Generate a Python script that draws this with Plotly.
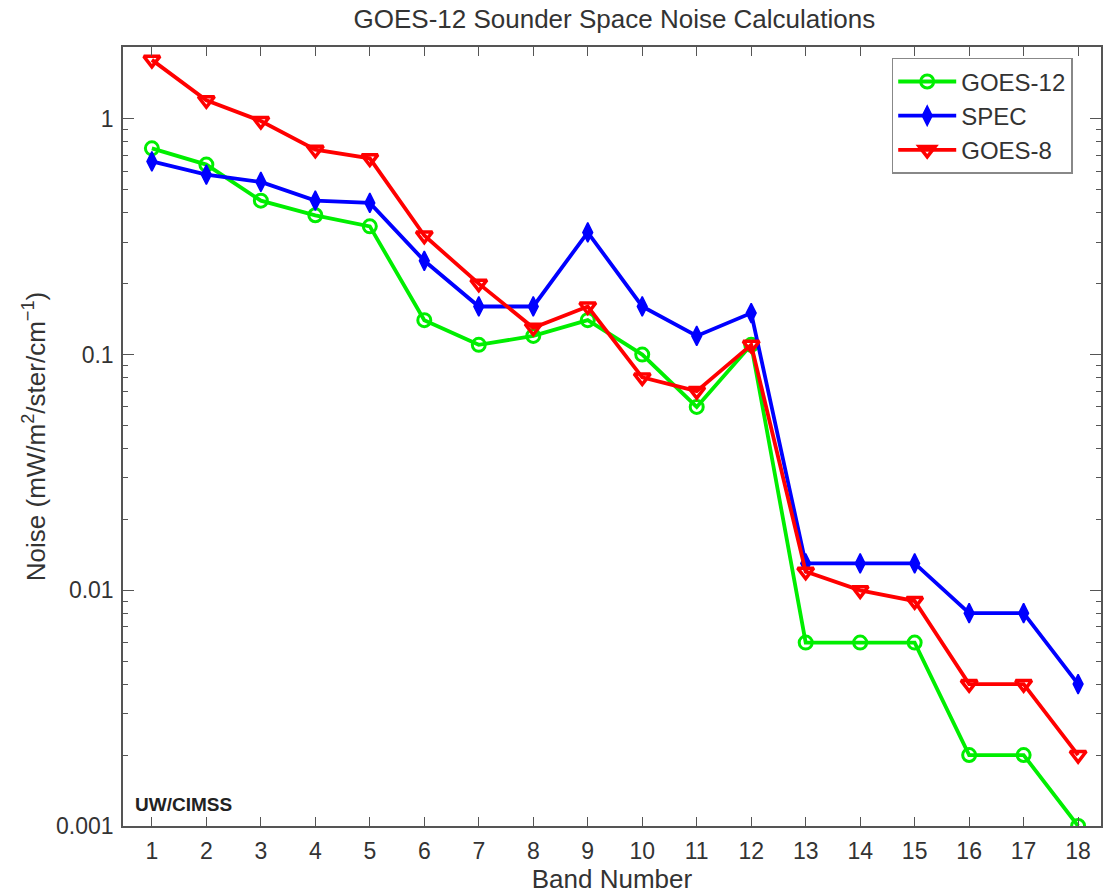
import plotly.graph_objects as go

bands = list(range(1, 19))
goes12 = [0.75, 0.64, 0.45, 0.39, 0.35, 0.14, 0.11, 0.12, 0.14, 0.10, 0.06, 0.11,
          0.006, 0.006, 0.006, 0.002, 0.002, 0.001]
spec = [0.66, 0.58, 0.54, 0.45, 0.44, 0.25, 0.16, 0.16, 0.33, 0.16, 0.12, 0.15,
        0.013, 0.013, 0.013, 0.008, 0.008, 0.004]
goes8 = [1.78, 1.2, 0.98, 0.74, 0.68, 0.32, 0.20, 0.13, 0.16, 0.08, 0.07, 0.11,
         0.012, 0.010, 0.009, 0.004, 0.004, 0.002]

names = ["GOES-12", "SPEC", "GOES-8"]
colors = ["#00ee00", "#0000ff", "#ff0000"]

fig = go.Figure()
fig.add_trace(go.Scatter(x=bands, y=goes12, name=names[0], mode="lines+markers",
                         line=dict(color=colors[0], width=3.8),
                         marker=dict(symbol="circle-open", size=13, line=dict(width=3, color=colors[0]))))
fig.add_trace(go.Scatter(x=bands, y=spec, name=names[1], mode="lines+markers",
                         line=dict(color=colors[1], width=3.8),
                         marker=dict(symbol="diamond-tall", size=14, color=colors[1],
                                     line=dict(width=1.5, color=colors[1]))))
fig.add_trace(go.Scatter(x=bands, y=goes8, name=names[2], mode="lines+markers",
                         line=dict(color=colors[2], width=3.8),
                         marker=dict(symbol="triangle-down-open", size=14, line=dict(width=3.5, color=colors[2]))))

font = "Liberation Sans, Arial, sans-serif"
axcol = "#555555"
txtcol = "#333333"
fig.update_layout(
    width=1103, height=894,
    margin=dict(l=123, r=0, t=47, b=68),
    paper_bgcolor="white", plot_bgcolor="white",
    font=dict(family=font, size=23, color=txtcol),
    title=dict(text="GOES-12 Sounder Space Noise Calculations", x=0.557, xanchor="center",
               y=1 - 19 / 894, yref="container", yanchor="middle",
               font=dict(size=26, color=txtcol)),
    showlegend=True,
    legend=dict(x=0.786, y=0.986, xanchor="left", yanchor="top",
                bordercolor="#888888", borderwidth=1.5, bgcolor="white",
                font=dict(size=24, color=txtcol), itemwidth=58,
                tracegroupgap=0),
    xaxis=dict(range=[0.47, 18.42], tickmode="array", tickvals=bands,
               ticks="inside", ticklen=9, tickcolor=axcol, tickwidth=1,
               showline=True, linecolor=axcol, linewidth=1.5, mirror="ticks",
               showgrid=False, zeroline=False, ticklabelstandoff=4,
               tickfont=dict(size=23, color=txtcol),
               title=dict(text="Band Number", font=dict(size=26, color=txtcol), standoff=2)),
    yaxis=dict(type="log", range=[-3, 0.305], tickmode="array",
               tickvals=[0.001, 0.01, 0.1, 1], ticktext=["0.001", "0.01", "0.1", "1"],
               ticks="inside", ticklen=11, tickcolor=axcol, tickwidth=1,
               minor=dict(ticks="inside", ticklen=5, tickcolor=axcol, showgrid=False,
                          tickvals=[m * 10 ** e for e in range(-3, 1) for m in range(2, 10)]),
               showline=True, linecolor=axcol, linewidth=1.5, mirror="ticks",
               showgrid=False, zeroline=False, ticklabelstandoff=3,
               tickfont=dict(size=23, color=txtcol),
               title=dict(text="Noise (mW/m<sup>2</sup>/ster/cm<sup>−1</sup>)",
                          font=dict(size=26, color=txtcol), standoff=3)),
    annotations=[dict(text="<b>UW/CIMSS</b>", xref="paper", yref="paper", x=0.01, y=0.012,
                      xanchor="left", yanchor="bottom", showarrow=False,
                      font=dict(size=19, color="#222222", family=font))],
)

fig.write_html("out.html")
